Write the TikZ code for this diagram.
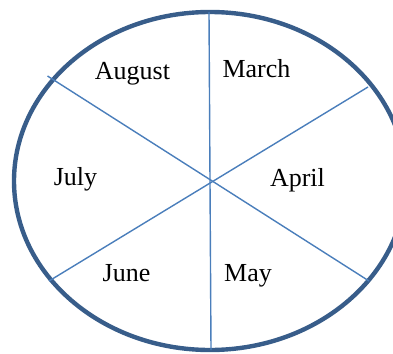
\documentclass[tikz,border=0pt]{standalone}
\usepackage{fontspec}
\setmainfont{Liberation Serif}
\usepackage{xcolor}
\definecolor{rimblue}{HTML}{385D8A}
\definecolor{spokeblue}{HTML}{4A7EBB}
\tikzset{
	rim/.style={draw=rimblue, line width=4.4pt},
	spoke/.style={draw=spokeblue, line width=1.4pt},
	month/.style={anchor=base, inner sep=0pt, font=\fontsize{26}{30}\selectfont}
}
\begin{document}
\begin{tikzpicture}[x=1pt, y=-1pt]
	\clip (0,0) rectangle (393,353);
	\coordinate (mid) at (210,181);
	\draw[rim] (mid) ellipse [x radius=196, y radius=169];
	% spoke end points on the rim
	\coordinate (top) at (209,12);
	\coordinate (bot) at (211,350);
	\coordinate (ul) at (47.5,76);
	\coordinate (lr) at (369,281);
	\coordinate (ur) at (368,87);
	\coordinate (ll) at (49,281);
	\draw[spoke] (top) -- (bot);
	\draw[spoke] (ul) -- (lr);
	\draw[spoke] (ur) -- (ll);
	% month labels
	\node[month] (august) at (132.5,79) {August};
	\node[month] (march) at (256.5,77) {March};
	\node[month] (july) at (75.5,185) {July};
	\node[month] (april) at (297.5,186.5) {April};
	\node[month] (june) at (126.5,281.5) {June};
	\node[month] (may) at (248,281.5) {May};
\end{tikzpicture}
\end{document}
